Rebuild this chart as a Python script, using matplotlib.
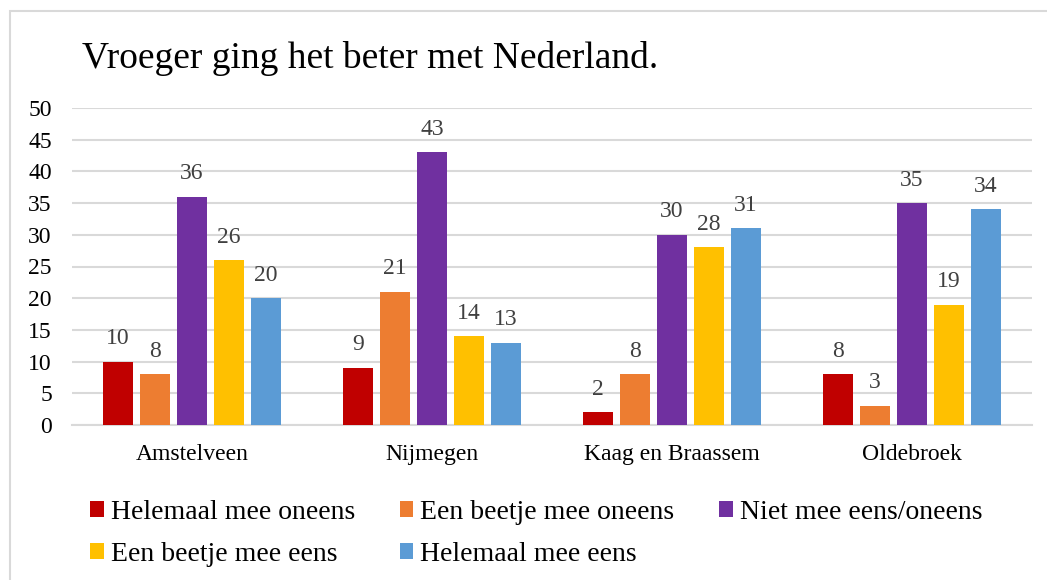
import matplotlib
matplotlib.use("Agg")
import matplotlib.pyplot as plt
from matplotlib.patches import Rectangle
import numpy as np

# data
gemeenten = ["Amstelveen", "Nijmegen", "Kaag en Braassem", "Oldebroek"]
antwoorden = ["Helemaal mee oneens", "Een beetje mee oneens", "Niet mee eens/oneens",
              "Een beetje mee eens", "Helemaal mee eens"]
helemaal_oneens = [10, 9, 2, 8]
beetje_oneens = [8, 21, 8, 3]
neutraal = [36, 43, 30, 35]
beetje_eens = [26, 14, 28, 19]
helemaal_eens = [20, 13, 31, 34]
kleuren = ["#C00000", "#ED7D31", "#7030A0", "#FFC000", "#5B9BD5"]

reeksen = [helemaal_oneens, beetje_oneens, neutraal, beetje_eens, helemaal_eens]

plt.rcParams['font.family'] = ['Liberation Serif', 'DejaVu Serif']

fig = plt.figure(figsize=(10.47, 5.8), dpi=100)
ax = fig.add_axes([72/1047, 1-425/580, 960/1047, 317/580])

x = np.arange(len(gemeenten))
stap = 0.154
breedte = 0.125
handles = []
for k, (vals, kl) in enumerate(zip(reeksen, kleuren)):
    pos = x + (k - 2) * stap
    b = ax.bar(pos, vals, breedte, color=kl, label=antwoorden[k], zorder=3)
    handles.append(b)
    for px, v in zip(pos, vals):
        ax.annotate(str(v), (px, v), xytext=(0, 9), textcoords='offset points',
                    ha='center', va='bottom', fontsize=17, color='#404040')

ax.set_xlim(-0.5, 3.5)
ax.set_ylim(0, 50)
ax.set_yticks(range(0, 51, 5))
ax.set_xticks(x)
ax.set_xticklabels(gemeenten)
ax.tick_params(axis='y', length=0, pad=14.5, labelsize=17)
ax.tick_params(axis='x', length=0, pad=14, labelsize=17)
ax.grid(axis='y', color='#d9d9d9', linewidth=1.5, zorder=0)
for s in ['top', 'right', 'left']:
    ax.spines[s].set_visible(False)
ax.spines['bottom'].set_color('#d9d9d9')
ax.spines['bottom'].set_linewidth(1.5)

fig.text(82/1047, 1-68/580, "Vroeger ging het beter met Nederland.", fontsize=27,
         ha='left', va='baseline')

# legenda: rijgewijs volgorde
volgorde = [0, 3, 1, 4, 2]
leg = fig.legend([handles[i] for i in volgorde], [antwoorden[i] for i in volgorde],
                 ncol=3, loc='upper left', bbox_to_anchor=(90/1047, 1-500/580),
                 frameon=False, fontsize=20, handlelength=0.5, handleheight=0.5,
                 handletextpad=0.25, columnspacing=1.6, labelspacing=0.6,
                 borderpad=0, borderaxespad=0)

# rand van de grafiek
fig.add_artist(Rectangle((10/1047, -0.1), 1.2, 1-11/580+0.1, transform=fig.transFigure,
                         fill=False, edgecolor='#d9d9d9', linewidth=1.5))

fig.savefig("out.png", dpi=100)
